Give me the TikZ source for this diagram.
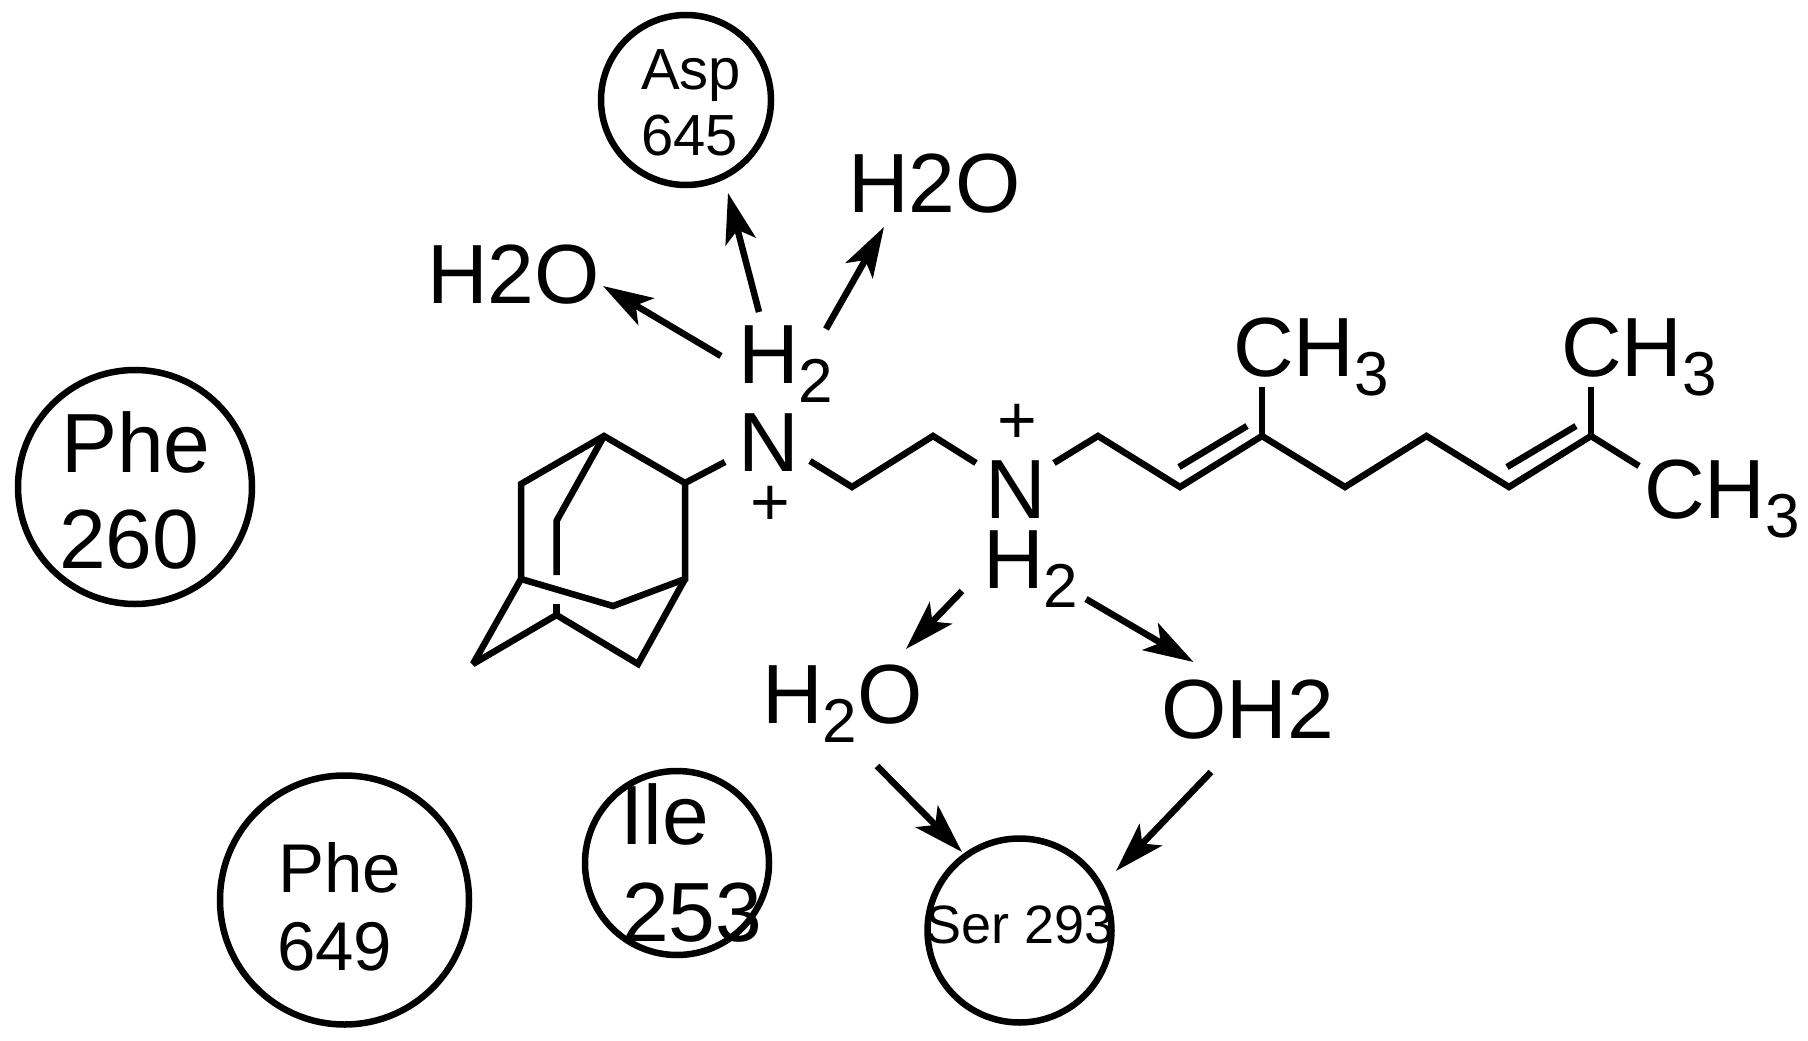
\documentclass[tikz,border=0pt]{standalone}
\usepackage{fontspec}
\setmainfont{Liberation Sans}
\usetikzlibrary{arrows.meta}
\newcommand{\fs}[1]{\fontsize{#1}{#1}\selectfont}
\newcommand{\dn}[1]{\raisebox{-19pt}{\fs{62}#1}}
\tikzset{
  lab/.style={inner sep=0pt,outer sep=0pt,anchor=base west,font=\fs{84}},
  mid/.style={inner sep=0pt,outer sep=0pt,anchor=base west,font=\fs{69}},
  small/.style={inner sep=0pt,outer sep=0pt,anchor=base west,font=\fs{58}},
  plus/.style={inner sep=0pt,outer sep=0pt,anchor=center,font=\fs{68}},
  residue/.style={circle,draw,line width=6.5pt,inner sep=0pt,outer sep=0pt},
  bond/.style={line width=6.5pt,line cap=butt,line join=miter,miter limit=2},
  hb/.style={line width=6.5pt,-{Stealth[length=50pt,width=31pt,inset=12pt]}}
}
\begin{document}
\begin{tikzpicture}[x=1pt,y=-1pt]
\path[fill=white,use as bounding box] (0,0) rectangle (1808,1041);
% residues
\node[residue,minimum size=170pt] (asp) at (686,100) {};
\node[residue,minimum size=234pt] (phea) at (135,487) {};
\node[residue,minimum size=249pt] (pheb) at (344.5,900) {};
\node[residue,minimum size=184pt] (ile) at (677,863) {};
\node[residue,minimum size=184pt] (ser) at (1019.5,930.5) {};
\node[small] (asp1) at (641,89) {Asp};
\node[small] (asp2) at (641,155) {645};
\node[lab] (phe1) at (61,472) {Phe};
\node[lab] (phe2) at (59,568) {260};
\node[mid] (phe3) at (278,892) {Phe};
\node[mid] (phe4) at (277,970) {649};
\node[lab] (ile1) at (620,844) {Ile};
\node[lab] (ile2) at (622,941) {253};
\node[inner sep=0pt,anchor=base west,font=\fs{54}] (ser1) at (925,943) {Ser 293};
% atom labels
\node[lab] (w1) at (427,303) {H2O};
\node[lab] (w2) at (848,212) {H2O};
\node[lab] (h1) at (738,383) {H\dn{2}};
\node[lab] (n1) at (738,471) {N};
\node[plus] (p1) at (770,506) {+};
\node[lab] (n2) at (985,518) {N};
\node[plus] (p2) at (1017,424) {+};
\node[lab] (h2) at (983,588) {H\dn{2}};
\node[lab] (w3) at (762,723) {H\dn{2}O};
\node[lab] (w4) at (1161,738) {OH2};
\node[lab] (m1) at (1233,376) {CH\dn{3}};
\node[lab] (m2) at (1561,376) {CH\dn{3}};
\node[lab] (m3) at (1644,518) {CH\dn{3}};
% skeleton points
\foreach \n/\p in {a/{604,436},b/{685,483},c/{725,462},d/{521,484},e/{521,579},f/{685,579},
  g/{613,606},i/{556.5,615},j/{473,664},k/{638,664},l/{556.5,521},l2/{556.5,575},l3/{556.5,604},
  s1/{810,461},s2/{852,487},s3/{933,436},s4/{976,463},s5/{1054,463},s6/{1098,436},s7/{1180,487},
  s8/{1262,436},s9/{1345,487},s10/{1426.5,436},s11/{1509,487},s12/{1591,436},s13/{1639,466},
  d1/{1179,467},d2/{1247,426},d3/{1507,467},d4/{1576,426},t1/{1262,387},t2/{1591,387}}
  {\coordinate (\n) at (\p);}
\foreach \n/\p in {a1/{721,356},a2/{603,286},a3/{759,312},a4/{728,193},a5/{826,329},a6/{884,227},
  a7/{962,591},a8/{906,649},a9/{1086,599},a10/{1193.5,662},a11/{877,766},a12/{962,852},a13/{1211,772},a14/{1116,871}}
  {\coordinate (\n) at (\p);}
% adamantyl
\draw[bond] (c) -- (b) -- (a) -- (d) -- (e) -- (g) -- (f) -- (b);
\draw[bond] (a) -- (l) -- (l2);
\draw[bond] (l3) -- (i);
\draw[bond] (e) -- (j) -- (i) -- (k) -- (f);
% chain
\draw[bond] (s1) -- (s2) -- (s3) -- (s4);
\draw[bond] (s5) -- (s6) -- (s7) -- (s8) -- (s9) -- (s10) -- (s11) -- (s12) -- (s13);
\draw[bond] (d1) -- (d2);
\draw[bond] (d3) -- (d4);
\draw[bond] (s8) -- (t1);
\draw[bond] (s12) -- (t2);
% hydrogen-bond arrows
\draw[hb] (a1) -- (a2);
\draw[hb] (a3) -- (a4);
\draw[hb] (a5) -- (a6);
\draw[hb] (a7) -- (a8);
\draw[hb] (a9) -- (a10);
\draw[hb] (a11) -- (a12);
\draw[hb] (a13) -- (a14);
\end{tikzpicture}
\end{document}
